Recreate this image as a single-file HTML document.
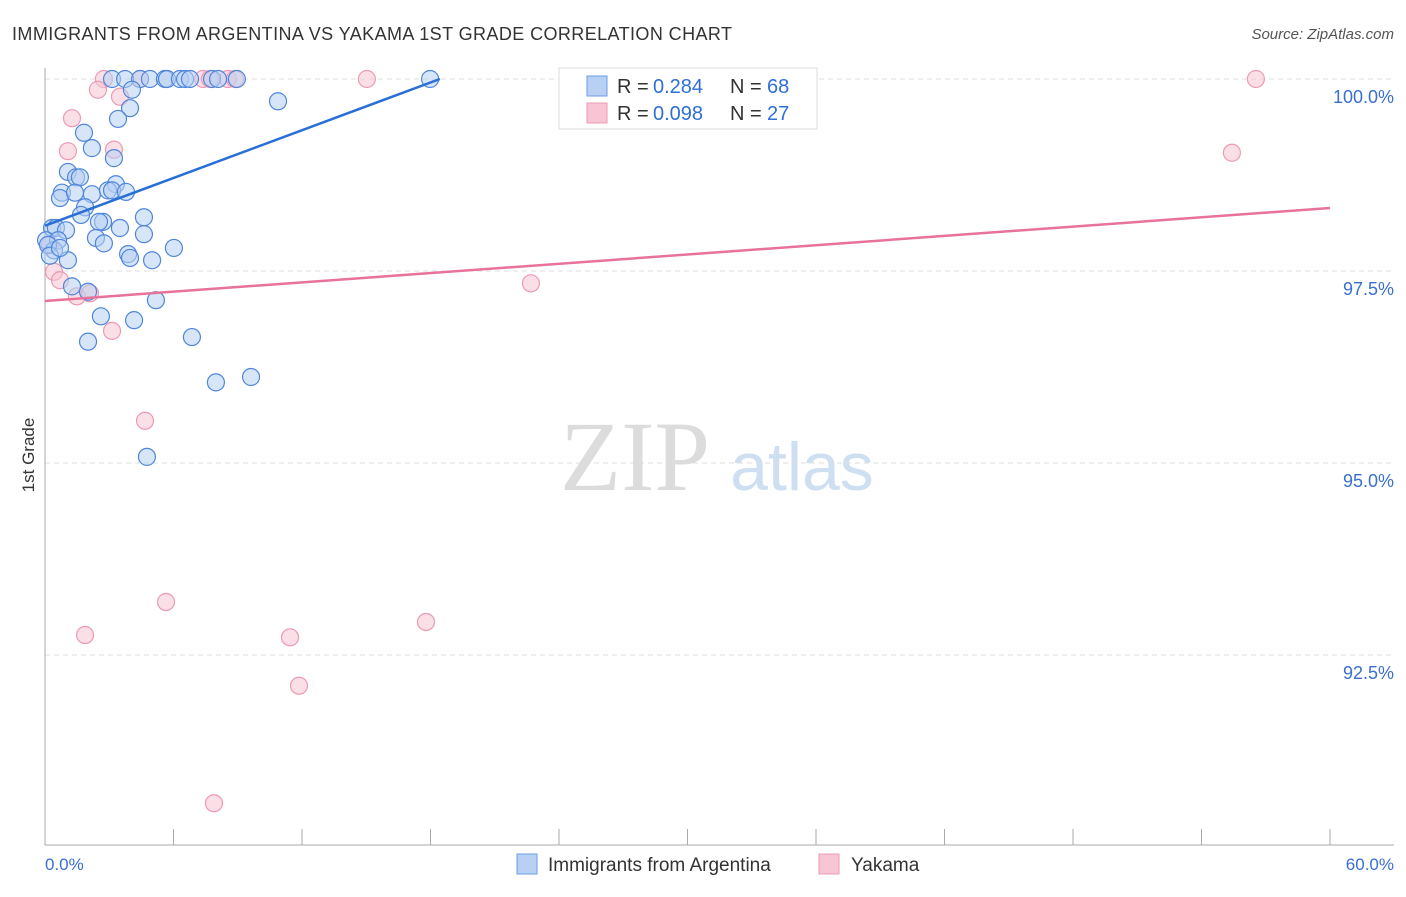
<!DOCTYPE html>
<html><head><meta charset="utf-8"><style>
body{margin:0;background:#fff;font-family:"Liberation Sans",sans-serif;}
</style></head><body>
<svg id="chart" width="1406" height="892" xmlns="http://www.w3.org/2000/svg" font-family="Liberation Sans, sans-serif">
<text x="12" y="40" font-size="18" fill="#333" textLength="720">IMMIGRANTS FROM ARGENTINA VS YAKAMA 1ST GRADE CORRELATION CHART</text>
<text x="1394" y="39" font-size="15" fill="#555" text-anchor="end" font-style="italic">Source: ZipAtlas.com</text>
<text x="635" y="490" font-size="100" fill="#dcdcdc" text-anchor="middle" style="font-family:'Liberation Serif',serif">ZIP</text>
<text x="802" y="490" font-size="68" fill="#cfdff2" text-anchor="middle">atlas</text>
<g id="grid"></g>
<g id="axes"></g>
<g id="marks"></g>
<text transform="translate(34,455) rotate(-90)" font-size="17" fill="#333" text-anchor="middle">1st Grade</text>
<text x="45" y="870" font-size="17" fill="#3a6fd0">0.0%</text>
<text x="1394" y="870" font-size="17" fill="#3a6fd0" text-anchor="end">60.0%</text>
<g>
<rect x="559" y="68" width="258" height="61" fill="#fff" stroke="#ddd"/>
<rect x="587" y="76" width="20" height="20" fill="#b7d0f3" stroke="#6d9de6"/>
<rect x="587" y="103" width="20" height="20" fill="#f8c5d4" stroke="#ec9ab3"/>
<text x="617" y="93" font-size="20" fill="#333">R =</text>
<text x="653" y="93" font-size="20" fill="#2f6fd6">0.284</text>
<text x="730" y="93" font-size="20" fill="#333">N =</text>
<text x="767" y="93" font-size="20" fill="#2f6fd6">68</text>
<text x="617" y="120" font-size="20" fill="#333">R =</text>
<text x="653" y="120" font-size="20" fill="#2f6fd6">0.098</text>
<text x="730" y="120" font-size="20" fill="#333">N =</text>
<text x="767" y="120" font-size="20" fill="#2f6fd6">27</text>
</g>
<g>
<rect x="517" y="854" width="20" height="20" fill="#b7d0f3" stroke="#6d9de6"/>
<text x="548" y="871" font-size="19" fill="#333">Immigrants from Argentina</text>
<rect x="819" y="854" width="20" height="20" fill="#f8c5d4" stroke="#ec9ab3"/>
<text x="851" y="871" font-size="19" fill="#333">Yakama</text>
</g>
</svg>
<script>
const blueX=[3.13,3.74,4.44,4.90,5.60,5.70,6.30,6.54,6.77,7.80,8.08,8.96,17.98,4.06,10.88,3.97,3.41,1.82,2.19,3.22,1.07,1.45,1.63,3.31,0.79,0.70,1.40,2.19,2.94,3.13,3.78,1.87,1.68,2.71,2.52,4.62,3.50,0.33,0.51,0.98,0.05,0.61,2.38,2.75,6.02,4.62,3.88,3.97,5.00,1.07,0.42,0.14,1.26,2.01,5.18,2.61,4.16,2.01,6.86,7.98,9.62,4.76,0.23,0.70];
const blueY=[100,100,100,100,100,100,100,100,100,100,100,100,100,99.86,99.71,99.62,99.48,99.30,99.10,98.97,98.79,98.72,98.72,98.63,98.52,98.45,98.52,98.50,98.55,98.55,98.53,98.33,98.23,98.14,98.14,98.20,98.06,98.06,98.06,98.03,97.90,97.90,97.93,97.86,97.80,97.98,97.72,97.67,97.64,97.64,97.77,97.84,97.30,97.23,97.12,96.91,96.86,96.58,96.64,96.05,96.12,95.08,97.70,97.80];
const pinkX=[2.75,4.44,7.38,7.70,8.54,8.87,15.03,56.54,2.47,3.50,1.26,1.07,3.22,55.42,0.42,0.70,1.49,2.10,3.13,22.69,4.67,5.65,1.87,11.44,17.79,11.86,7.89,0.23];
const pinkY=[100,100,100,100,100,100,100,100,99.86,99.77,99.49,99.06,99.08,99.04,97.49,97.38,97.17,97.21,96.72,97.34,95.55,93.19,92.76,92.73,92.93,92.10,90.57,97.84];
const blueTrend=[0,98.09,18.44,100];
const pinkTrend=[0,97.11,60,98.32];
const yTicks=[100,97.5,95,92.5];
const yTickLabels=["100.0%","97.5%","95.0%","92.5%"];
const xTicks=[0,6,12,18,24,30,36,42,48,54,60];

const NS="http://www.w3.org/2000/svg";
const sx=v=>45+v/60*1285;
const sy=v=>79+(100-v)/2.5*192;
function mk(tag,attrs,parent){const e=document.createElementNS(NS,tag);for(const k in attrs)e.setAttribute(k,attrs[k]);parent.appendChild(e);return e;}
const grid=document.getElementById('grid'),axes=document.getElementById('axes'),marks=document.getElementById('marks');
yTicks.forEach((t,i)=>{
  const l=mk('line',{x1:45,x2:1394,y1:sy(t),y2:sy(t),stroke:'#ddd','stroke-dasharray':'5,4'},grid);
  
  
  const tx=mk('text',{x:1394,y:sy(t)+24,'font-size':18,fill:'#3a6fd0','text-anchor':'end'},grid);
  tx.textContent=yTickLabels[i];
  
  
});
const xa=mk('line',{x1:45,x2:1394,y1:845,y2:845,stroke:'#aaa'},axes);


const ya=mk('line',{x1:45,x2:45,y1:68,y2:845,stroke:'#aaa'},axes);


xTicks.forEach(t=>{
  const l=mk('line',{x1:sx(t),x2:sx(t),y1:829,y2:845,stroke:'#aaa'},axes);
  
  
});
function pts(X,Y,fill,stroke,name){
  X.forEach((x,i)=>{
    const c=mk('circle',{cx:sx(x),cy:sy(Y[i]),r:8.5,fill:fill,'fill-opacity':0.55,stroke:stroke,'stroke-width':1.2},marks);
    
    
  });
}
pts(pinkX,pinkY,'#f8c5d4','#ec9ab3','yakama-point');
pts(blueX,blueY,'#b7d0f3','#4f86da','argentina-point');
const bl=mk('line',{x1:sx(blueTrend[0]),y1:sy(blueTrend[1]),x2:sx(blueTrend[2]),y2:sy(blueTrend[3]),stroke:'#2a6fd6','stroke-width':2.5},marks);


const pl=mk('line',{x1:sx(pinkTrend[0]),y1:sy(pinkTrend[1]),x2:sx(pinkTrend[2]),y2:sy(pinkTrend[3]),stroke:'#e8729a','stroke-width':2.5},marks);


</script>
</body></html>
